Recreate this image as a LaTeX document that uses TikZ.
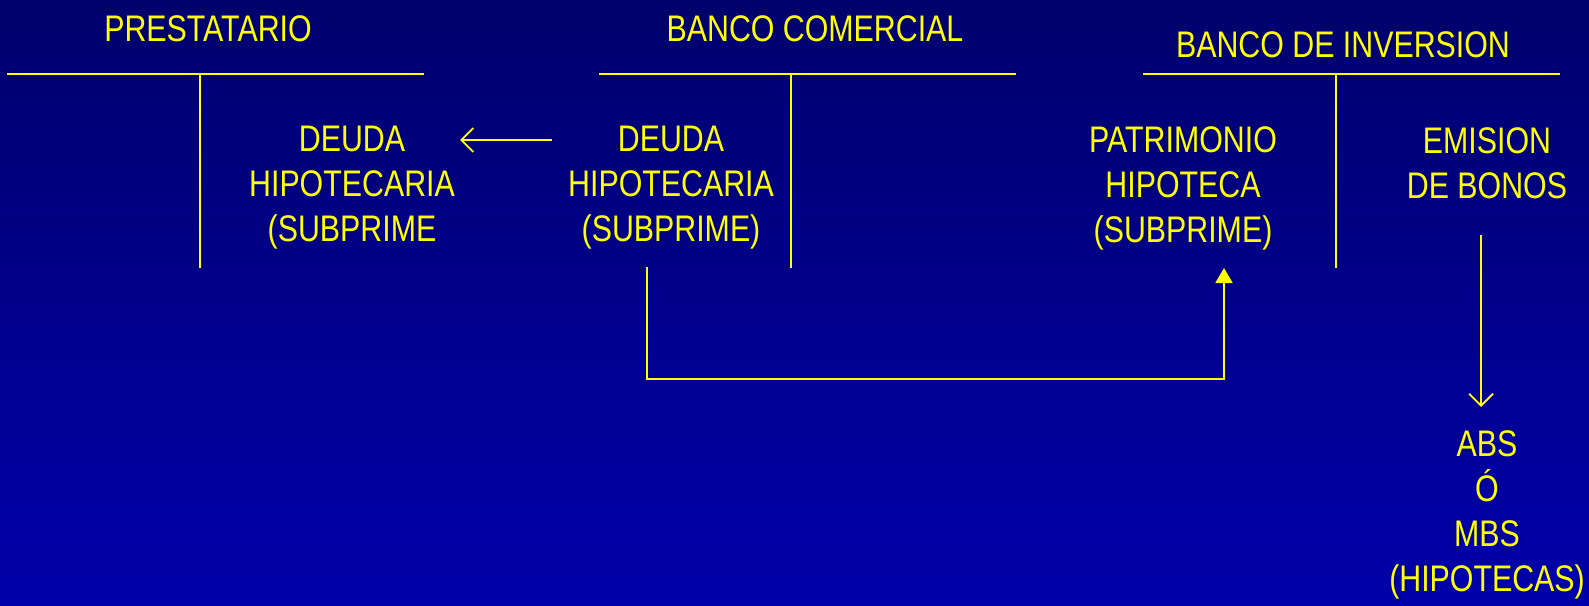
\documentclass[tikz,border=0pt]{standalone}
\usepackage{fontspec}
\setmainfont{Liberation Sans}
\newfontfamily\narrowfont[FakeStretch=0.82]{Liberation Sans}
\usetikzlibrary{arrows.meta}
\definecolor{bgtop}{RGB}{0,0,108}
\definecolor{bgbot}{RGB}{0,0,170}
\definecolor{txt}{RGB}{255,255,0}
\begin{document}
\begin{tikzpicture}[x=1pt,y=-1pt,
		lbl/.style={text=txt, inner sep=0pt, align=center, font=\narrowfont\fontsize{37}{45}\selectfont},
		tline/.style={draw=txt, line width=1.8pt}]
		% background
		\shade[top color=bgtop, bottom color=bgbot] (0,0) rectangle (1589,605);
		\useasboundingbox (0,0) rectangle (1589,605);
		% account titles
		\node[lbl] (prest) at (208,29)  {PRESTATARIO};
		\node[lbl] (banco) at (815,29)  {BANCO COMERCIAL};
		\node[lbl] (inver) at (1343,45) {BANCO DE INVERSION};
		% T accounts
		\draw[tline] (7,74) -- (424,74);   \draw[tline] (200,74) -- (200,268);
		\draw[tline] (599,74) -- (1016,74); \draw[tline] (791,74) -- (791,268);
		\draw[tline] (1143,74) -- (1560,74); \draw[tline] (1336,74) -- (1336,268);
		% entries
		\node[lbl] (deuda1) at (352,188)  {DEUDA\\HIPOTECARIA\\(SUBPRIME};
		\node[lbl] (deuda2) at (671,188)  {DEUDA\\HIPOTECARIA\\(SUBPRIME)};
		\node[lbl] (patri)  at (1183,188) {PATRIMONIO\\HIPOTECA\\(SUBPRIME)};
		\node[lbl] (emis)   at (1487,163) {EMISION\\DE BONOS};
		\node[lbl] (abs)    at (1487,515) {ABS\\Ó\\MBS\\(HIPOTECAS)};
		% flows
		\coordinate (a1) at (552,140);
		\coordinate (a2) at (460,140);
		\draw[tline, -{Straight Barb[length=12pt,width=24pt]}] (a1) -- (a2);
		\coordinate (b1) at (647,267);
		\coordinate (b2) at (1224,268);
		\draw[tline, -{Triangle[length=15pt,width=17pt]}] (b1) -- (647,379) -| (b2);
		\coordinate (c1) at (1481,235);
		\coordinate (c2) at (1481,407);
		\draw[tline, -{Straight Barb[length=12pt,width=24pt]}] (c1) -- (c2);
\end{tikzpicture}
\end{document}
